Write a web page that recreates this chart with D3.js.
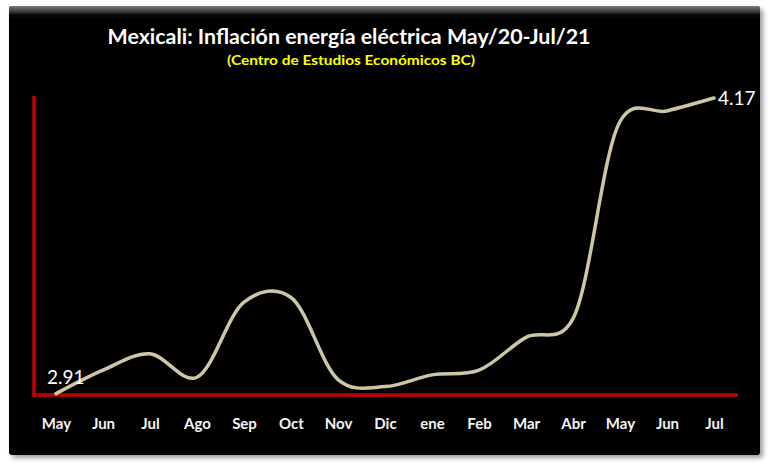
<!DOCTYPE html>
<html><head><meta charset="utf-8">
<script src="https://cdn.jsdelivr.net/npm/d3@7"></script>
<style>
html,body{margin:0;padding:0;background:#fff;}
svg{display:block;}
</style></head>
<body>
<svg id="chart" width="770" height="470"></svg>
<script>
const months = ["May","Jun","Jul","Ago","Sep","Oct","Nov","Dic","ene","Feb","Mar","Abr","May","Jun","Jul"];
const values = [2.91,3.01,3.08,2.98,3.30,3.32,2.97,2.94,2.99,3.01,3.15,3.23,4.07,4.115,4.17];
const titleText = "Mexicali: Inflación energía eléctrica May/20-Jul/21";
const subtitleText = "(Centro de Estudios Económicos BC)";

const svg = d3.select("#chart");
const defs = svg.append("defs");
const f = defs.append("filter").attr("id","sh").attr("x","-5%").attr("y","-5%").attr("width","110%").attr("height","110%");
f.append("feGaussianBlur").attr("in","SourceAlpha").attr("stdDeviation",2.5);
f.append("feOffset").attr("dx",3).attr("dy",3).attr("result","ob");
f.append("feComponentTransfer").append("feFuncA").attr("type","linear").attr("slope",0.4);
const m = f.append("feMerge"); m.append("feMergeNode"); m.append("feMergeNode").attr("in","SourceGraphic");

const g1 = defs.append("linearGradient").attr("id","bev").attr("x1",0).attr("y1",0).attr("x2",0).attr("y2",1);
g1.append("stop").attr("offset","0%").attr("stop-color","#7a7a7a");
g1.append("stop").attr("offset","100%").attr("stop-color","#050505");

svg.append("rect").attr("x",9).attr("y",6).attr("width",751).attr("height",449).attr("rx",3)
  .attr("fill","#050505").attr("filter","url(#sh)");
svg.append("rect").attr("x",9).attr("y",6).attr("width",751).attr("height",10).attr("rx",3)
  .attr("fill","url(#bev)");
svg.append("rect").attr("x",9).attr("y",14).attr("width",751).attr("height",4).attr("fill","#050505");

const x = d3.scalePoint().domain(d3.range(months.length)).range([56,714]);
const y = d3.scaleLinear().domain([2.9,4.2]).range([396,91]);

const FONT = "Lato, 'Open Sans', sans-serif";
// Title
svg.append("text").attr("x",349).attr("y",44).attr("text-anchor","middle")
  .attr("font-family",FONT).attr("font-weight","bold")
  .attr("font-size",21).attr("fill","#fff")
  .attr("textLength",483).attr("lengthAdjust","spacingAndGlyphs").text(titleText);
svg.append("text").attr("x",351).attr("y",65).attr("text-anchor","middle")
  .attr("font-family",FONT).attr("font-weight","bold")
  .attr("font-size",14).attr("fill","#ffff00")
  .attr("textLength",248).attr("lengthAdjust","spacingAndGlyphs").text(subtitleText);

// Axes (red)
const xAxis = d3.axisBottom(x).tickSize(0).tickPadding(23).tickFormat(i => months[i]);
const xa = svg.append("g").attr("transform","translate(0,395)").call(xAxis);
xa.select(".domain").remove();
xa.selectAll("text").attr("font-family",FONT).attr("font-weight","bold")
  .attr("font-size",15).attr("fill","#f4f4f4");
svg.append("line").attr("x1",32.5).attr("x2",738).attr("y1",395).attr("y2",395)
  .attr("stroke","#c00000").attr("stroke-width",3.5);
svg.append("line").attr("x1",34).attr("x2",34).attr("y1",96).attr("y2",396.5)
  .attr("stroke","#c00000").attr("stroke-width",3.5);

// Line
const line = d3.line().x((d,i)=>x(i)).y(d=>y(d)).curve(d3.curveCatmullRom.alpha(0.15));
svg.append("path").datum(values).attr("d",line).attr("fill","none")
  .attr("stroke","#cdc6a6").attr("stroke-width",3.5).attr("stroke-linecap","round");

// Data labels
const last = values.length-1;
svg.append("text").attr("x",x(0)-9).attr("y",y(values[0])-10)
  .attr("font-family",FONT).attr("font-size",19).attr("fill","#fff")
  .text(values[0].toFixed(2));
svg.append("text").attr("x",x(last)+4).attr("y",y(values[last])+7)
  .attr("font-family",FONT).attr("font-size",19).attr("fill","#fff")
  .text(values[last].toFixed(2));
</script>
</body></html>
